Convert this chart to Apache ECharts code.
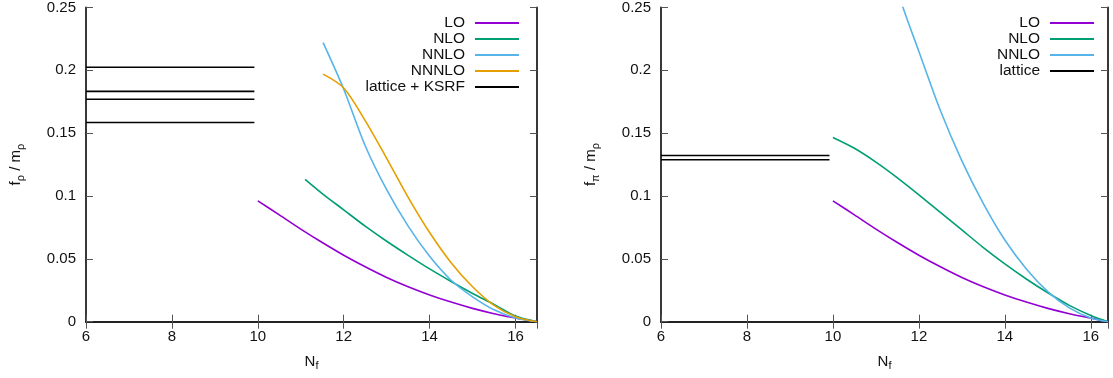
<!DOCTYPE html>
<html>
<head>
<meta charset="utf-8">
<script src="https://cdn.jsdelivr.net/npm/echarts@6/dist/echarts.min.js"></script>
<style>
  html, body { margin: 0; padding: 0; background: #fff; }
  #chart { width: 1113px; height: 378px; }
</style>
</head>
<body>
<div id="chart"></div>
<script>
// ---- data ----
// left panel: f_rho / m_rho
const rhoLoNf = [10, 10.5, 11, 11.5, 12, 12.5, 13, 13.5, 14, 14.5, 15, 15.5, 16, 16.5];
const rhoLo = [0.0962, 0.085, 0.0737, 0.063, 0.0529, 0.0437, 0.0352, 0.0278, 0.0213, 0.0156, 0.0106, 0.0064, 0.0029, 0];
const rhoNloNf = [11.1, 11.5, 12, 12.5, 13, 13.5, 14, 14.5, 15, 15.5, 16, 16.5];
const rhoNlo = [0.1133, 0.102, 0.089, 0.076, 0.064, 0.0528, 0.042, 0.032, 0.0225, 0.0138, 0.0045, 0];
const rhoNnloNf = [11.52, 12, 12.5, 13, 13.5, 14, 14.5, 15, 15.5, 16, 16.5];
const rhoNnlo = [0.222, 0.185, 0.14, 0.105, 0.076, 0.052, 0.033, 0.0198, 0.0095, 0.003, 0];
const rhoNnnloNf = [11.52, 12, 12.5, 13, 13.5, 14, 14.5, 15, 15.5, 16, 16.5];
const rhoNnnlo = [0.197, 0.186, 0.16, 0.13, 0.099, 0.071, 0.047, 0.0278, 0.013, 0.004, 0];
const rhoLattice = [0.2024, 0.1833, 0.177, 0.1585];

// right panel: f_pi / m_rho
const piLoNf = [10, 10.5, 11, 11.5, 12, 12.5, 13, 13.5, 14, 14.5, 15, 15.5, 16, 16.4];
const piLo = [0.0962, 0.085, 0.0737, 0.063, 0.0529, 0.0437, 0.0352, 0.0278, 0.0213, 0.0156, 0.0106, 0.0064, 0.0029, 0];
const piNloNf = [10, 10.5, 11, 11.5, 12, 12.5, 13, 13.5, 14, 14.5, 15, 15.5, 16, 16.4];
const piNlo = [0.1466, 0.138, 0.127, 0.1145, 0.101, 0.087, 0.073, 0.059, 0.046, 0.034, 0.023, 0.013, 0.005, 0];
const piNnloNf = [11.4, 11.63, 12, 12.5, 13, 13.5, 14, 14.5, 15, 15.5, 16, 16.4];
const piNnlo = [0.275, 0.25, 0.215, 0.168, 0.128, 0.094, 0.065, 0.042, 0.024, 0.011, 0.003, 0];
const piLattice = [0.1323, 0.1289];

const latticeNf = [6, 9.92];

const colors = { lo: '#9400d3', nlo: '#009e73', nnlo: '#56b4e9', nnnlo: '#e69f00', lat: '#000000' };
const font = "'Liberation Sans', Arial, sans-serif";
const ink = '#111';

const zip = (xs, ys) => xs.map((x, i) => [x, ys[i]]);

const chart = echarts.init(document.getElementById('chart'), null, { renderer: 'canvas' });

function curve(name, xs, ys, color, g) {
  return {
    type: 'line', name, data: zip(xs, ys),
    xAxisIndex: g * 2, yAxisIndex: g * 2,
    showSymbol: false, symbol: 'none', smooth: 0.3,
    lineStyle: { color, width: 1.6 }, itemStyle: { color },
    clip: true, z: 3
  };
}
function latticeLine(name, y, g) {
  return {
    type: 'line', name, data: latticeNf.map(x => [x, y]),
    xAxisIndex: g * 2, yAxisIndex: g * 2,
    showSymbol: false, symbol: 'none',
    lineStyle: { color: colors.lat, width: 1.6 }, itemStyle: { color: colors.lat }
  };
}

const tickStyle = { show: true, inside: true, length: 7, lineStyle: { color: '#555', width: 1 } };
const lineStyle = { show: true, lineStyle: { color: '#222', width: 1.8 } };
const labelStyle = { color: ink, fontSize: 15, fontFamily: font };
const subRich = {
  i: { fontSize: 15, fontFamily: font, color: ink },
  s: { fontSize: 11, fontFamily: font, color: ink, padding: [9, 0, 0, 0] }
};

function xAxes(g, max) {
  return [
    {
      type: 'value', gridIndex: g, position: 'bottom', min: 6, max, interval: 2,
      axisLine: lineStyle, axisTick: tickStyle, splitLine: { show: false },
      axisLabel: Object.assign({ margin: 8, showMaxLabel: false }, labelStyle),
      name: '{i|N}{s|f}', nameLocation: 'middle', nameGap: 30,
      nameTextStyle: { rich: subRich }
    },
    {
      type: 'value', gridIndex: g, position: 'top', min: 6, max, interval: 2,
      axisLine: lineStyle, axisTick: tickStyle, splitLine: { show: false },
      axisLabel: { show: false }
    }
  ];
}
function yAxes(g, name) {
  return [
    {
      type: 'value', gridIndex: g, position: 'left', min: 0, max: 0.25, interval: 0.05,
      axisLine: lineStyle, axisTick: tickStyle, splitLine: { show: false },
      axisLabel: Object.assign({ margin: 10 }, labelStyle),
      name, nameLocation: 'middle', nameGap: 60,
      nameTextStyle: { rich: subRich }
    },
    {
      type: 'value', gridIndex: g, position: 'right', min: 0, max: 0.25, interval: 0.05,
      axisLine: lineStyle, axisTick: tickStyle, splitLine: { show: false },
      axisLabel: { show: false }
    }
  ];
}

function legend(names, right) {
  return {
    orient: 'vertical', right, top: 10, align: 'right',
    data: names, icon: 'rect', itemWidth: 44, itemHeight: 2, itemGap: 0,
    selectedMode: false,
    textStyle: { color: ink, fontSize: 15.5, fontFamily: font, lineHeight: 15.75, padding: [0, 5, 0, 0] }
  };
}

chart.setOption({
  animation: false,
  backgroundColor: '#fff',
  grid: [
    { left: 86, right: 576, top: 6.7, bottom: 56.3 },
    { left: 661, right: 5, top: 6.7, bottom: 56.3 }
  ],
  xAxis: [...xAxes(0, 16.5), ...xAxes(1, 16.4)],
  yAxis: [...yAxes(0, '{i|f}{s|ρ}{i| / m}{s|ρ}'), ...yAxes(1, '{i|f}{s|π}{i| / m}{s|ρ}')],
  legend: [
    legend(['LO', 'NLO', 'NNLO', 'NNNLO', 'lattice + KSRF'], 589),
    legend(['LO', 'NLO', 'NNLO', 'lattice'], 14)
  ],
  series: [
    curve('LO', rhoLoNf, rhoLo, colors.lo, 0),
    curve('NLO', rhoNloNf, rhoNlo, colors.nlo, 0),
    curve('NNLO', rhoNnloNf, rhoNnlo, colors.nnlo, 0),
    curve('NNNLO', rhoNnnloNf, rhoNnnlo, colors.nnnlo, 0),
    ...rhoLattice.map(y => latticeLine('lattice + KSRF', y, 0)),
    curve('LO', piLoNf, piLo, colors.lo, 1),
    curve('NLO', piNloNf, piNlo, colors.nlo, 1),
    curve('NNLO', piNnloNf, piNnlo, colors.nnlo, 1),
    ...piLattice.map(y => latticeLine('lattice', y, 1))
  ]
});
</script>
</body>
</html>
